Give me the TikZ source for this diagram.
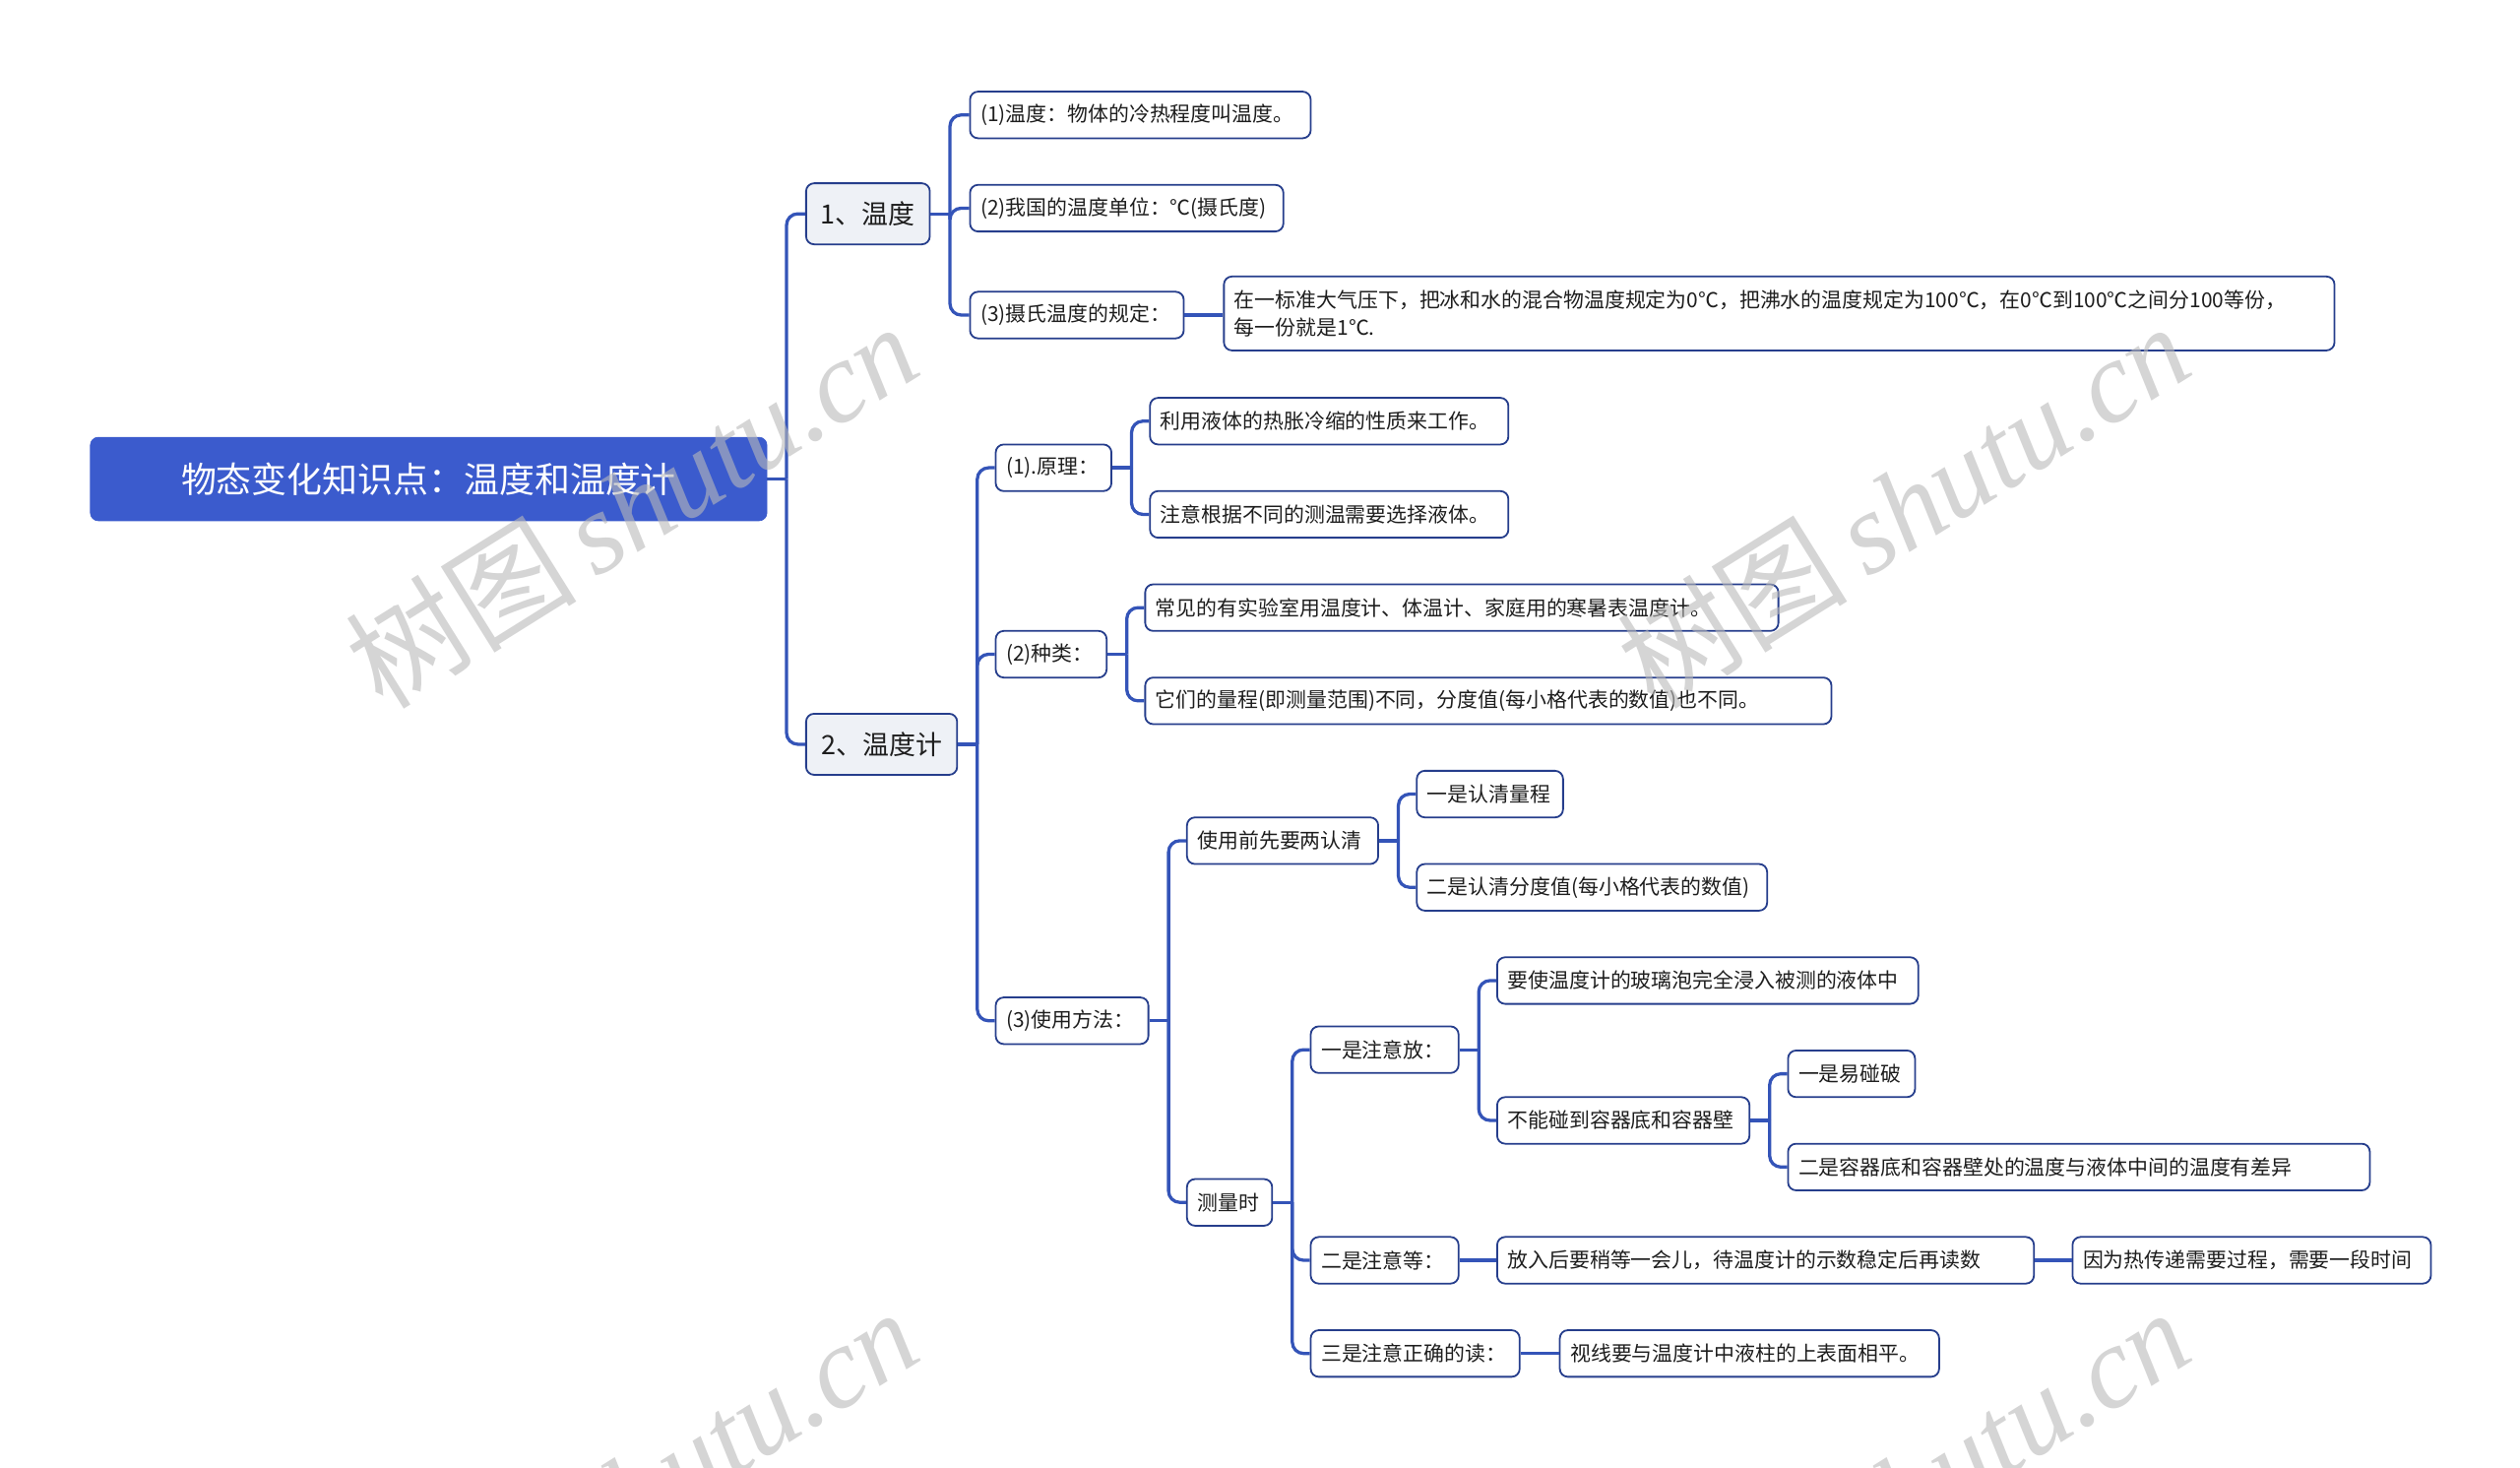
\documentclass[tikz,border=0pt]{standalone}
\usepackage{fontspec}
\setmainfont{Noto Sans CJK SC}
\newfontfamily\wmlatin{Liberation Serif}
\newfontfamily\wmcjk{Noto Sans CJK SC}
\usetikzlibrary{calc}
\definecolor{rootfill}{RGB}{59,91,205}
\definecolor{linkblue}{RGB}{52,84,184}
\definecolor{boxline}{RGB}{38,62,140}
\definecolor{lvfill}{RGB}{238,241,246}
\definecolor{txt}{RGB}{30,30,30}
\definecolor{wmgray}{RGB}{185,185,185}
\tikzset{
  rootbox/.style={fill=rootfill, draw=rootfill, rounded corners=5pt, anchor=west,
    minimum height=52pt, text=white, font=\fontsize{22}{26}\selectfont, inner xsep=8pt},
  lvbox/.style={fill=lvfill, draw=boxline, line width=1.1pt, rounded corners=5pt, anchor=west,
    minimum height=38pt, text=txt, font=\fontsize{16.5}{20}\selectfont, inner xsep=6pt},
  leaf/.style={fill=white, draw=boxline, line width=1.1pt, rounded corners=5pt, anchor=west,
    minimum height=29pt, text=txt, font=\fontsize{12.8}{17}\selectfont, inner xsep=6.5pt, align=left},
  conn/.style={draw=linkblue, line width=2pt},
  elbow/.style={conn, rounded corners=7pt},
  wm/.style={text=wmgray, opacity=0.6, rotate=32, font=\fontsize{72}{74}\selectfont}
}
\begin{document}
\begin{tikzpicture}[x=1pt,y=-1pt]
\useasboundingbox (0,0) rectangle (1568,913);
\fill[white] (0,0) rectangle (1568,913);

% nodes
\node[rootbox, minimum width=421pt] (R) at (56,298) {物态变化知识点：温度和温度计};
\node[lvbox, minimum width=77pt] (A) at (501,133) {1、温度};
\node[lvbox, minimum width=94pt] (B) at (501,463) {2、温度计};

\node[leaf, text width=199pt] (A1) at (603,71.5) {(1)温度：物体的冷热程度叫温度。};
\node[leaf, text width=182pt] (A2) at (603,129.5) {(2)我国的温度单位：℃(摄氏度)};
\node[leaf, text width=120pt] (A3) at (603,196) {(3)摄氏温度的规定：};
\node[leaf, text width=678pt, minimum height=46pt] (A3a) at (761,195)
  {在一标准大气压下，把冰和水的混合物温度规定为0℃，把沸水的温度规定为100℃，在0℃到100℃之间分100等份，\\每一份就是1℃.};

\node[leaf, text width=59pt] (B1) at (619,291) {(1).原理：};
\node[leaf, text width=210pt] (B1a) at (715,262) {利用液体的热胀冷缩的性质来工作。};
\node[leaf, text width=210pt] (B1b) at (715,320) {注意根据不同的测温需要选择液体。};

\node[leaf, text width=56pt] (B2) at (619,407) {(2)种类：};
\node[leaf, text width=381pt] (B2a) at (712,378) {常见的有实验室用温度计、体温计、家庭用的寒暑表温度计。};
\node[leaf, text width=414pt] (B2b) at (712,436) {它们的量程(即测量范围)不同，分度值(每小格代表的数值)也不同。};

\node[leaf, text width=82pt] (B3) at (619,635) {(3)使用方法：};
\node[leaf, text width=106pt] (B3a) at (738,523) {使用前先要两认清};
\node[leaf, text width=78pt] (B3a1) at (881,494) {一是认清量程};
\node[leaf, text width=205pt] (B3a2) at (881,552) {二是认清分度值(每小格代表的数值)};
\node[leaf, text width=40pt] (B3b) at (738,748) {测量时};

\node[leaf, text width=79pt] (C1) at (815,653) {一是注意放：};
\node[leaf, text width=249pt] (C1a) at (931,610) {要使温度计的玻璃泡完全浸入被测的液体中};
\node[leaf, text width=144pt] (C1b) at (931,697) {不能碰到容器底和容器壁};
\node[leaf, text width=66pt] (C1b1) at (1112,668) {一是易碰破};
\node[leaf, text width=349pt] (C1b2) at (1112,726) {二是容器底和容器壁处的温度与液体中间的温度有差异};

\node[leaf, text width=79pt] (C2) at (815,784) {二是注意等：};
\node[leaf, text width=321pt] (C2a) at (931,784) {放入后要稍等一会儿，待温度计的示数稳定后再读数};
\node[leaf, text width=210pt] (C2b) at (1289,784) {因为热传递需要过程，需要一段时间};

\node[leaf, text width=117pt] (C3) at (815,842) {三是注意正确的读：};
\node[leaf, text width=223pt] (C3a) at (970,842) {视线要与温度计中液柱的上表面相平。};

% junctions
\coordinate (Rj) at ($(R.east)+(12,0)$);
\coordinate (Aj) at ($(A.east)+(12,0)$);
\coordinate (Bj) at ($(B.east)+(12,0)$);
\coordinate (B1j) at ($(B1.east)+(12,0)$);
\coordinate (B2j) at ($(B2.east)+(12,0)$);
\coordinate (B3j) at ($(B3.east)+(12,0)$);
\coordinate (B3aj) at ($(B3a.east)+(12,0)$);
\coordinate (B3bj) at ($(B3b.east)+(12,0)$);
\coordinate (C1j) at ($(C1.east)+(12,0)$);
\coordinate (C1bj) at ($(C1b.east)+(12,0)$);

% connectors
\draw[conn] (R.east) -- (Rj);
\draw[elbow] (Rj) |- (A.west);
\draw[elbow] (Rj) |- (B.west);

\draw[conn] (A.east) -- (Aj);
\draw[elbow] (Aj) |- (A1.west);
\draw[elbow] (Aj) |- (A2.west);
\draw[elbow] (Aj) |- (A3.west);
\draw[conn] (A3.east) -- (A3a.west |- A3.east);

\draw[conn] (B.east) -- (Bj);
\draw[elbow] (Bj) |- (B1.west);
\draw[elbow] (Bj) |- (B2.west);
\draw[elbow] (Bj) |- (B3.west);

\draw[conn] (B1.east) -- (B1j);
\draw[elbow] (B1j) |- (B1a.west);
\draw[elbow] (B1j) |- (B1b.west);

\draw[conn] (B2.east) -- (B2j);
\draw[elbow] (B2j) |- (B2a.west);
\draw[elbow] (B2j) |- (B2b.west);

\draw[conn] (B3.east) -- (B3j);
\draw[elbow] (B3j) |- (B3a.west);
\draw[elbow] (B3j) |- (B3b.west);

\draw[conn] (B3a.east) -- (B3aj);
\draw[elbow] (B3aj) |- (B3a1.west);
\draw[elbow] (B3aj) |- (B3a2.west);

\draw[conn] (B3b.east) -- (B3bj);
\draw[elbow] (B3bj) |- (C1.west);
\draw[elbow] (B3bj) |- (C2.west);
\draw[elbow] (B3bj) |- (C3.west);

\draw[conn] (C1.east) -- (C1j);
\draw[elbow] (C1j) |- (C1a.west);
\draw[elbow] (C1j) |- (C1b.west);

\draw[conn] (C1b.east) -- (C1bj);
\draw[elbow] (C1bj) |- (C1b1.west);
\draw[elbow] (C1bj) |- (C1b2.west);

\draw[conn] (C2.east) -- (C2a.west);
\draw[conn] (C2a.east) -- (C2b.west);
\draw[conn] (C3.east) -- (C3a.west);

% watermarks
\begin{scope}
\clip (0,0) rectangle (1568,913);
\node[wm] (W1) at (393,314) {\wmcjk 树图\,\wmlatin\itshape shutu.cn};
\node[wm] (W2) at (1184,314) {\wmcjk 树图\,\wmlatin\itshape shutu.cn};
\node[wm] (W3) at (393,927) {\wmcjk 树图\,\wmlatin\itshape shutu.cn};
\node[wm] (W4) at (1184,927) {\wmcjk 树图\,\wmlatin\itshape shutu.cn};
\end{scope}
\end{tikzpicture}
\end{document}
